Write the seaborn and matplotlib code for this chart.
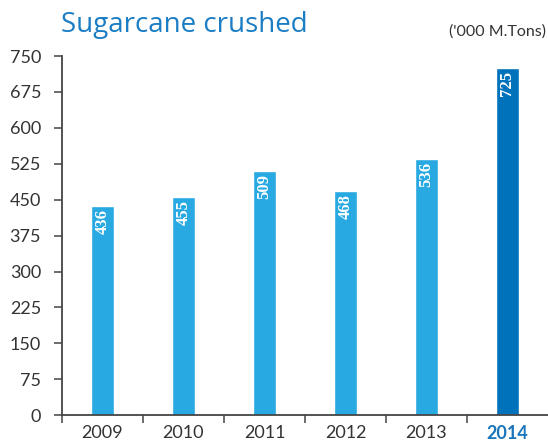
import matplotlib
matplotlib.use("Agg")
import matplotlib.pyplot as plt
import seaborn as sns
import pandas as pd
import numpy as np

# Data
years = ["2009", "2010", "2011", "2012", "2013", "2014"]
crushed = [436, 455, 509, 468, 536, 725]
bar_colors = ["#29a9e1", "#29a9e1", "#29a9e1", "#29a9e1", "#29a9e1", "#0071bb"]
yticks = [0, 75, 150, 225, 300, 375, 450, 525, 600, 675, 750]

df = pd.DataFrame({"year": years, "crushed": crushed})

sns.set_style("white")
plt.rcParams["font.family"] = ["Lato", "DejaVu Sans"]

fig = plt.figure(figsize=(5.48, 4.45), dpi=100)
ax = fig.add_axes([0.113, 0.067, 0.887, 0.807])

sns.barplot(data=df, x="year", y="crushed", hue="year", palette=bar_colors,
            legend=False, width=0.28, saturation=1, ax=ax)

# value labels inside the bars, rotated
for i, v in enumerate(crushed):
    ax.text(i, v - 6, str(v), rotation=90, ha="center", va="top",
            color="white", fontsize=12, fontweight="bold",
            family="Liberation Serif")

ax.set_xlim(-0.5, 5.5)
ax.set_ylim(0, 750)
ax.set_yticks(yticks)
ax.set_xlabel("")
ax.set_ylabel("")

axis_col = "#444444"
for s in ["top", "right"]:
    ax.spines[s].set_visible(False)
for s in ["left", "bottom"]:
    ax.spines[s].set_color(axis_col)
    ax.spines[s].set_linewidth(1.3)

ax.tick_params(axis="y", which="major", left=True, length=6, width=1.1,
               color=axis_col, labelsize=13, labelcolor="#333333", pad=9)
# year labels centred on bars, tick marks between bars
ax.tick_params(axis="x", which="major", length=0, labelsize=13,
               labelcolor="#333333", pad=7)
ax.set_xticks(np.arange(-0.5, 5.0, 1.0), minor=True)
ax.tick_params(axis="x", which="minor", bottom=True, length=6, width=1.1,
               color=axis_col)

last = ax.get_xticklabels()[-1]
last.set_color("#1a75bb")
last.set_fontweight("bold")

fig.text(0.111, 0.943, "Sugarcane crushed", fontsize=20, color="#1b7dc3",
         family=["Open Sans", "DejaVu Sans"], ha="left", va="center")
fig.text(0.997, 0.93, "('000 M.Tons)", fontsize=11.5, color="#333333",
         ha="right", va="center")

fig.savefig("out.png", dpi=100)
